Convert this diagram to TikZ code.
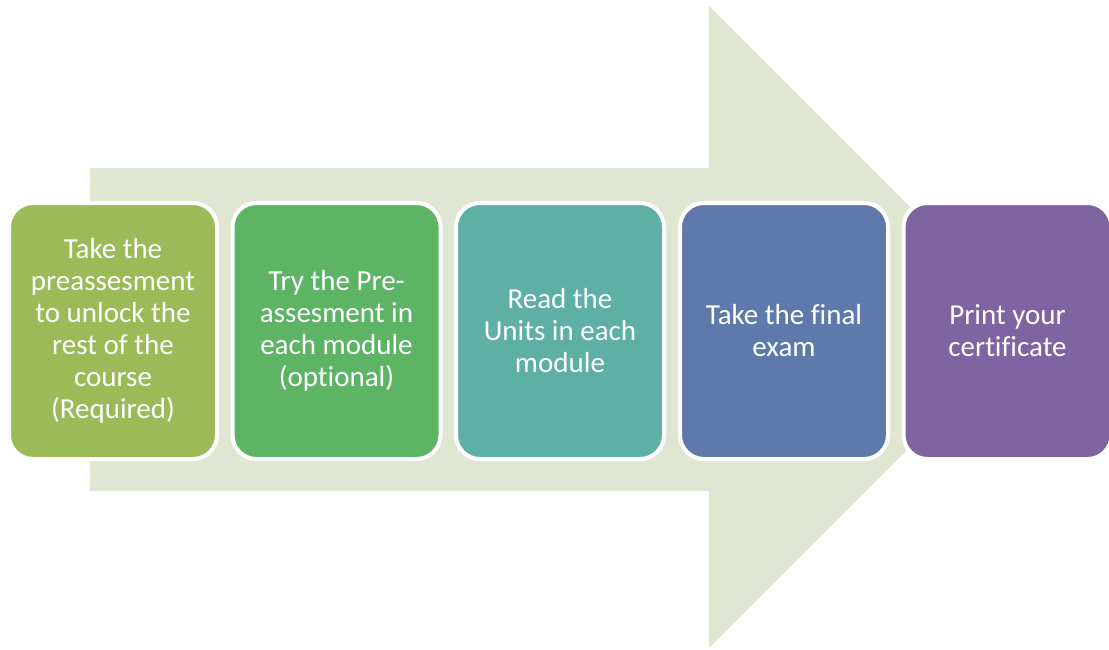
\documentclass[tikz,border=0pt]{standalone}
\usepackage{fontspec}
\setmainfont{Carlito}[Ligatures=NoCommon]
\definecolor{arrowbg}{HTML}{DFE7D3}
\definecolor{cA}{HTML}{9BBB59}
\definecolor{cB}{HTML}{5DB465}
\definecolor{cC}{HTML}{5EAFA6}
\definecolor{cD}{HTML}{5F7AAA}
\definecolor{cE}{HTML}{8064A2}
\begin{document}
\begin{tikzpicture}[x=1pt,y=-1pt,
  stepbox/.style={rectangle, rounded corners=24pt, draw=white, line width=4pt,
    minimum width=208pt, minimum height=256pt, inner sep=0pt, text=white,
    align=center, font=\fontsize{29}{32}\selectfont}]
\useasboundingbox (0,0) rectangle (1109,649);
\clip (0,0) rectangle (1109,649);
\fill[arrowbg] (90,168) -- (709,168) -- (709,6) -- (1030,327) -- (709,648) -- (709,491) -- (90,491) -- cycle;
\node[stepbox, fill=cA] (s1) at (113,331) {Take the\\preassesment\\to unlock the\\rest of the\\course\\(Required)};
\node[stepbox, fill=cB] (s2) at (336.5,331) {Try the Pre-\\assesment in\\each module\\(optional)};
\node[stepbox, fill=cC] (s3) at (560,331) {Read the\\Units in each\\module};
\node[stepbox, fill=cD] (s4) at (784,331) {Take the final\\exam};
\node[stepbox, fill=cE] (s5) at (1007.5,331) {Print your\\certificate};
\end{tikzpicture}
\end{document}
